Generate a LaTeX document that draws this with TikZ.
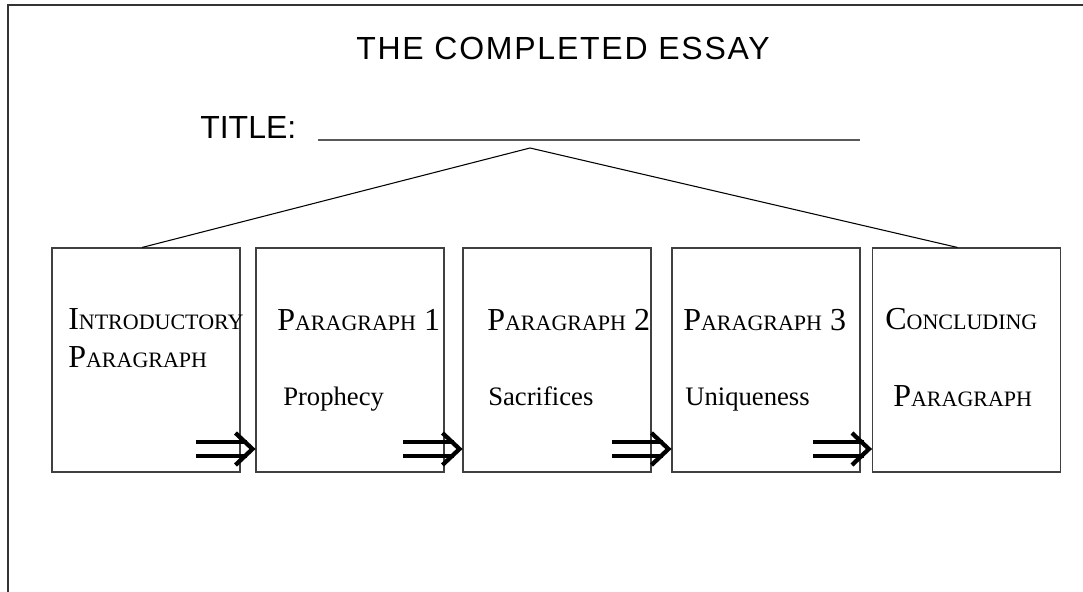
\documentclass[tikz,border=0pt]{standalone}
\usepackage{fontspec}
\setmainfont{Liberation Serif}
\newfontfamily\headfont{Liberation Sans}
\newfontfamily\spacedfont[LetterSpace=5.5]{Liberation Sans}
\usetikzlibrary{calc}
\newcommand{\smcap}[1]{{\fontsize{16.5}{20}\selectfont #1}}
\tikzset{
  parbox/.style={draw=black!75, line width=0.8pt, minimum width=141pt, minimum height=168pt, inner sep=0pt},
  bigtxt/.style={anchor=base west, inner sep=0pt, font=\fontsize{24}{28}\selectfont},
  subtxt/.style={anchor=base west, inner sep=0pt, font=\fontsize{20}{24}\selectfont},
  headtxt/.style={anchor=base, inner sep=0pt, font=\headfont\fontsize{24}{28}\selectfont},
  implies/.style={line width=3.2pt, line cap=butt}
}
\begin{document}
\begin{tikzpicture}[x=0.75pt, y=-0.75pt]
\useasboundingbox (0,0) rectangle (1083,592);
% frame
\draw[black!80, line width=1.1pt] (8,592) -- (8,5) -- (1083,5);
% heading and title line
\node[headtxt, font=\spacedfont\fontsize{24}{28}\selectfont] (heading) at (563,60) {THE COMPLETED ESSAY};
\node[headtxt, anchor=base west] (titlelbl) at (200,138) {TITLE:};
\draw[black!65, line width=1.8pt] (318,140) -- (860,140);
% the five boxes
\node[parbox] (intro) at (146,360) {};
\node[parbox] (parone) at (350,360) {};
\node[parbox] (partwo) at (557,360) {};
\node[parbox] (parthree) at (766,360) {};
\node[parbox] (concl) at (966.5,360) {};
% tree lines
\coordinate (apex) at (530,148);
\draw[black, line width=0.8pt] ($(intro.north)+(-4,0)$) -- (apex) -- ($(concl.north)+(-9,0)$);
% box texts
\node[bigtxt] (intro-a) at (68,329) {I\smcap{NTRODUCTORY}};
\node[bigtxt] (intro-b) at (68,367) {P\smcap{ARAGRAPH}};
\node[bigtxt] (parone-a) at (277,330) {P\smcap{ARAGRAPH} 1};
\node[subtxt] (parone-b) at (283,405) {Prophecy};
\node[bigtxt] (partwo-a) at (487,330) {P\smcap{ARAGRAPH} 2};
\node[subtxt] (partwo-b) at (488,405) {Sacrifices};
\node[bigtxt] (parthree-a) at (683,330) {P\smcap{ARAGRAPH} 3};
\node[subtxt] (parthree-b) at (685,405) {Uniqueness};
\node[bigtxt] (concl-a) at (885,329) {C\smcap{ONCLUDING}};
\node[bigtxt] (concl-b) at (893,406) {P\smcap{ARAGRAPH}};
% double arrows between boxes
\foreach \a/\b in {intro/parone, parone/partwo, partwo/parthree, parthree/concl} {
  \coordinate (tip) at ($(\b.west)+(-1,89)$);
  \draw[implies] ($(tip)+(-58,-7)$) -- ($(tip)+(-7,-7)$);
  \draw[implies] ($(tip)+(-58,7)$) -- ($(tip)+(-7,7)$);
  \draw[implies] ($(tip)+(-19,-16)$) -- ($(tip)+(-2,0)$) -- ($(tip)+(-19,16)$);
}
\end{tikzpicture}
\end{document}
